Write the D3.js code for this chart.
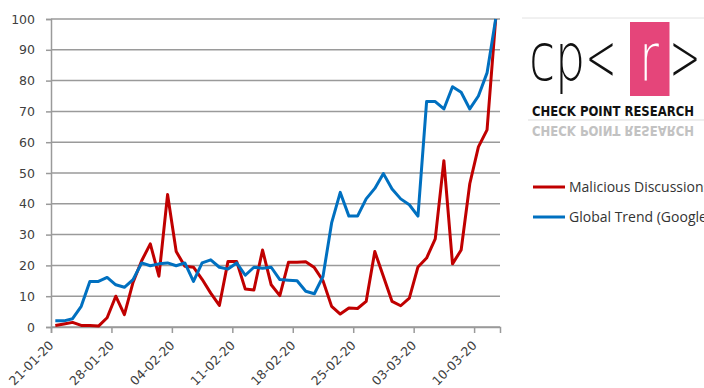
<!DOCTYPE html>
<html>
<head>
<meta charset="utf-8">
<script src="https://cdn.jsdelivr.net/npm/d3@7"></script>
<style>
  body { margin: 0; background: #fff; overflow: hidden; }
  svg { display: block; }
</style>
</head>
<body>
<svg id="chart" width="704" height="388"></svg>
<script>
// day labels on the axis (one every 7 days)
var tickDays = [0, 7, 14, 21, 28, 35, 42, 49];
var tickLabels = ["21-01-20", "28-01-20", "04-02-20", "11-02-20",
                  "18-02-20", "25-02-20", "03-03-20", "10-03-20"];
var yTicks = [0, 10, 20, 30, 40, 50, 60, 70, 80, 90, 100];

// daily values, 21-01-20 .. 12-03-20
var malicious = [0.5, 1, 1.5, 0.5, 0.5, 0.3, 3, 10, 4, 14.5,
                 21.5, 27, 16.5, 43, 24.5, 19.7, 19.4, 15.5, 11, 7,
                 21.3, 21.3, 12.3, 12, 25, 13.7, 10.2, 21, 21, 21.2,
                 19.3, 15, 6.7, 4.2, 6.2, 6, 8.3, 24.5, 16.4, 8.3,
                 6.9, 9.4, 19.5, 22.4, 28.6, 54, 20.5, 25, 46.5, 58.5,
                 64, 100];
var googleTrend = [2, 2, 2.7, 6.7, 14.8, 14.8, 16.1, 13.7, 12.9, 15.4,
                   20.8, 19.9, 20.5, 20.8, 19.9, 20.8, 14.8, 20.8, 21.8, 19.4,
                   18.8, 20.8, 16.8, 19.4, 19.1, 19.4, 15.4, 15.2, 15, 11.6,
                   10.8, 16.4, 33.8, 43.7, 36, 36, 41.6, 45, 49.8, 44.8,
                   41.6, 39.7, 36, 73.2, 73.2, 70.8, 78, 76.2, 70.8, 75,
                   82.5, 100];
var seriesNames = ["Malicious Discussions", "Global Trend (Google Trends)"];
var seriesColors = ["#c00000", "#0070c0"];

var svg = d3.select("#chart");

var x = d3.scaleLinear().domain([0, 52]).range([51, 500]);
var y = d3.scaleLinear().domain([0, 100]).range([327, 19]);

// gridlines
svg.append("g")
  .selectAll("line")
  .data(yTicks)
  .enter().append("line")
  .attr("x1", x(0)).attr("x2", x(52))
  .attr("y1", d => y(d)).attr("y2", d => y(d))
  .attr("stroke", "#9a9a9a")
  .attr("stroke-width", 1.5);

// y axis
var yAxis = svg.append("g")
  .attr("transform", "translate(" + x(0) + ",0)")
  .call(d3.axisLeft(y).tickValues(yTicks).tickSize(5).tickPadding(11));
yAxis.select(".domain").attr("stroke", "#9a9a9a").attr("stroke-width", 1.5);
yAxis.selectAll(".tick line").attr("stroke", "#9a9a9a").attr("stroke-width", 1.5);
yAxis.selectAll("text")
  .attr("font-family", "DejaVu Sans")
  .attr("font-size", 12.5)
  .attr("fill", "#404040");

// x axis
var xAxis = svg.append("g")
  .attr("transform", "translate(0," + y(0) + ")")
  .call(d3.axisBottom(x).tickValues(tickDays).tickSize(6)
    .tickFormat((d, i) => tickLabels[i]));
xAxis.select(".domain").attr("stroke", "#9a9a9a").attr("stroke-width", 1.5);
xAxis.selectAll(".tick line").attr("stroke", "#9a9a9a").attr("stroke-width", 1.5);
xAxis.selectAll("text")
  .attr("font-family", "DejaVu Sans")
  .attr("font-size", 12.5)
  .attr("fill", "#404040")
  .attr("text-anchor", "end")
  .attr("x", 0).attr("y", 0).attr("dy", 0)
  .attr("transform", "translate(3,19) rotate(-45)");

// lines
var line = d3.line()
  .x((d, i) => x(i + 0.5))
  .y(d => y(d));

[malicious, googleTrend].forEach(function(series, k) {
  svg.append("path")
    .datum(series)
    .attr("fill", "none")
    .attr("stroke", seriesColors[k])
    .attr("stroke-width", 3)
    .attr("stroke-linejoin", "round")
    .attr("d", line);
});

// legend (runs past the right edge, as in the source image)
var legend = svg.append("g");
seriesNames.forEach(function(name, k) {
  var ly = 187 + k * 30;
  legend.append("line")
    .attr("x1", 533).attr("x2", 565)
    .attr("y1", ly).attr("y2", ly)
    .attr("stroke", seriesColors[k])
    .attr("stroke-width", 3);
  legend.append("text")
    .attr("x", 569).attr("y", ly)
    .attr("dy", "0.35em")
    .attr("font-family", "Open Sans")
    .attr("font-size", 14)
    .attr("fill", "#333")
    .text(name);
});

// logo
var logo = svg.append("g");
logo.append("line")
  .attr("x1", 522).attr("x2", 704).attr("y1", 18).attr("y2", 18)
  .attr("stroke", "#e2e2e2");
logo.append("line")
  .attr("x1", 528).attr("x2", 704).attr("y1", 120).attr("y2", 120)
  .attr("stroke", "#dddddd");
logo.append("rect")
  .attr("x", 630).attr("y", 22).attr("width", 39.5).attr("height", 74)
  .attr("fill", "#e5457a");

var glyphs = [
  {t: "c", cx: 542, sx: 0.72, fill: "#111"},
  {t: "p", cx: 570, sx: 0.72, fill: "#111"},
  {t: "<", cx: 601, sx: 0.56, fill: "#111"},
  {t: "r", cx: 649, sx: 0.72, fill: "#fff"},
  {t: ">", cx: 685, sx: 0.56, fill: "#111"}
];
glyphs.forEach(function(g) {
  logo.append("text")
    .attr("transform", "translate(" + g.cx + ",80) scale(" + g.sx + ",1)")
    .attr("text-anchor", "middle")
    .attr("font-family", "DejaVu Sans")
    .attr("font-weight", 200)
    .attr("font-size", 66)
    .attr("fill", g.fill)
    .text(g.t);
});

logo.append("text")
  .attr("x", 532).attr("y", 115.5)
  .attr("font-family", "DejaVu Sans Condensed, DejaVu Sans")
  .attr("font-weight", "bold")
  .attr("font-size", 13.5)
  .attr("textLength", 162)
  .attr("lengthAdjust", "spacingAndGlyphs")
  .attr("fill", "#111")
  .text("CHECK POINT RESEARCH");

logo.append("text")
  .attr("transform", "translate(0,241) scale(1,-1)")
  .attr("x", 532).attr("y", 115.5)
  .attr("font-family", "DejaVu Sans Condensed, DejaVu Sans")
  .attr("font-weight", "bold")
  .attr("font-size", 13.5)
  .attr("textLength", 162)
  .attr("lengthAdjust", "spacingAndGlyphs")
  .attr("fill", "#c2c2c2")
  .text("CHECK POINT RESEARCH");
</script>
</body>
</html>
